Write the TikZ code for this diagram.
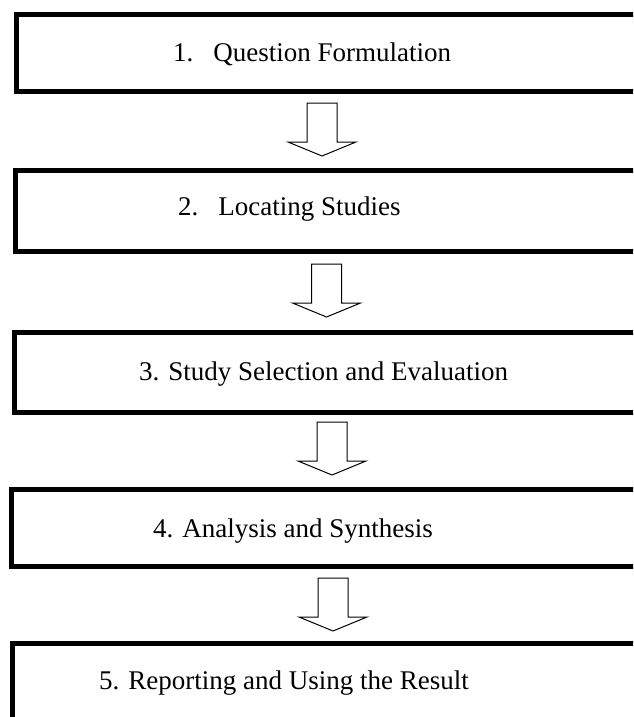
\documentclass[tikz,border=0pt]{standalone}
\usepackage{fontspec}
\setmainfont{Liberation Serif}
\begin{document}
\begin{tikzpicture}[x=1pt,y=-1pt,
  stepbox/.style={line width=5pt,draw=black,line join=miter},
  blockarrow/.style={draw=black,line width=1pt,fill=white,line join=miter},
  steplabel/.style={anchor=base west,inner sep=0pt,font=\fontsize{27}{30}\selectfont}]
\useasboundingbox (0,0) rectangle (633,717);
\clip (0,0) rectangle (633,717);
% boxes (they run past the right edge)
\draw[stepbox] (16,15) rectangle (660,91);
\draw[stepbox] (15,170) rectangle (660,251);
\draw[stepbox] (14,332) rectangle (660,412);
\draw[stepbox] (11,489) rectangle (660,566);
\draw[stepbox] (12,643) rectangle (660,745);
% labels
\node[steplabel] (t1) at (173,62) {1.\hspace{20pt}Question Formulation};
\node[steplabel] (t2) at (178,215) {2.\hspace{20pt}Locating Studies};
\node[steplabel] (t3) at (139,380) {3. Study Selection and Evaluation};
\node[steplabel] (t4) at (153,537) {4. Analysis and Synthesis};
\node[steplabel] (t5) at (99,689) {5. Reporting and Using the Result};
% block arrows (top centre of each shaft)
\coordinate (a1) at (322,103);
\coordinate (a2) at (326.5,264);
\coordinate (a3) at (332,422);
\coordinate (a4) at (333,578);
\foreach \a in {a1,a2,a3,a4}{
  \draw[blockarrow] (\a) ++(-15,0) -- ++(0,39) -- ++(-19,0) -- ++(34,14)
     -- ++(34,-14) -- ++(-19,0) -- ++(0,-39) -- cycle;
}
\end{tikzpicture}
\end{document}
